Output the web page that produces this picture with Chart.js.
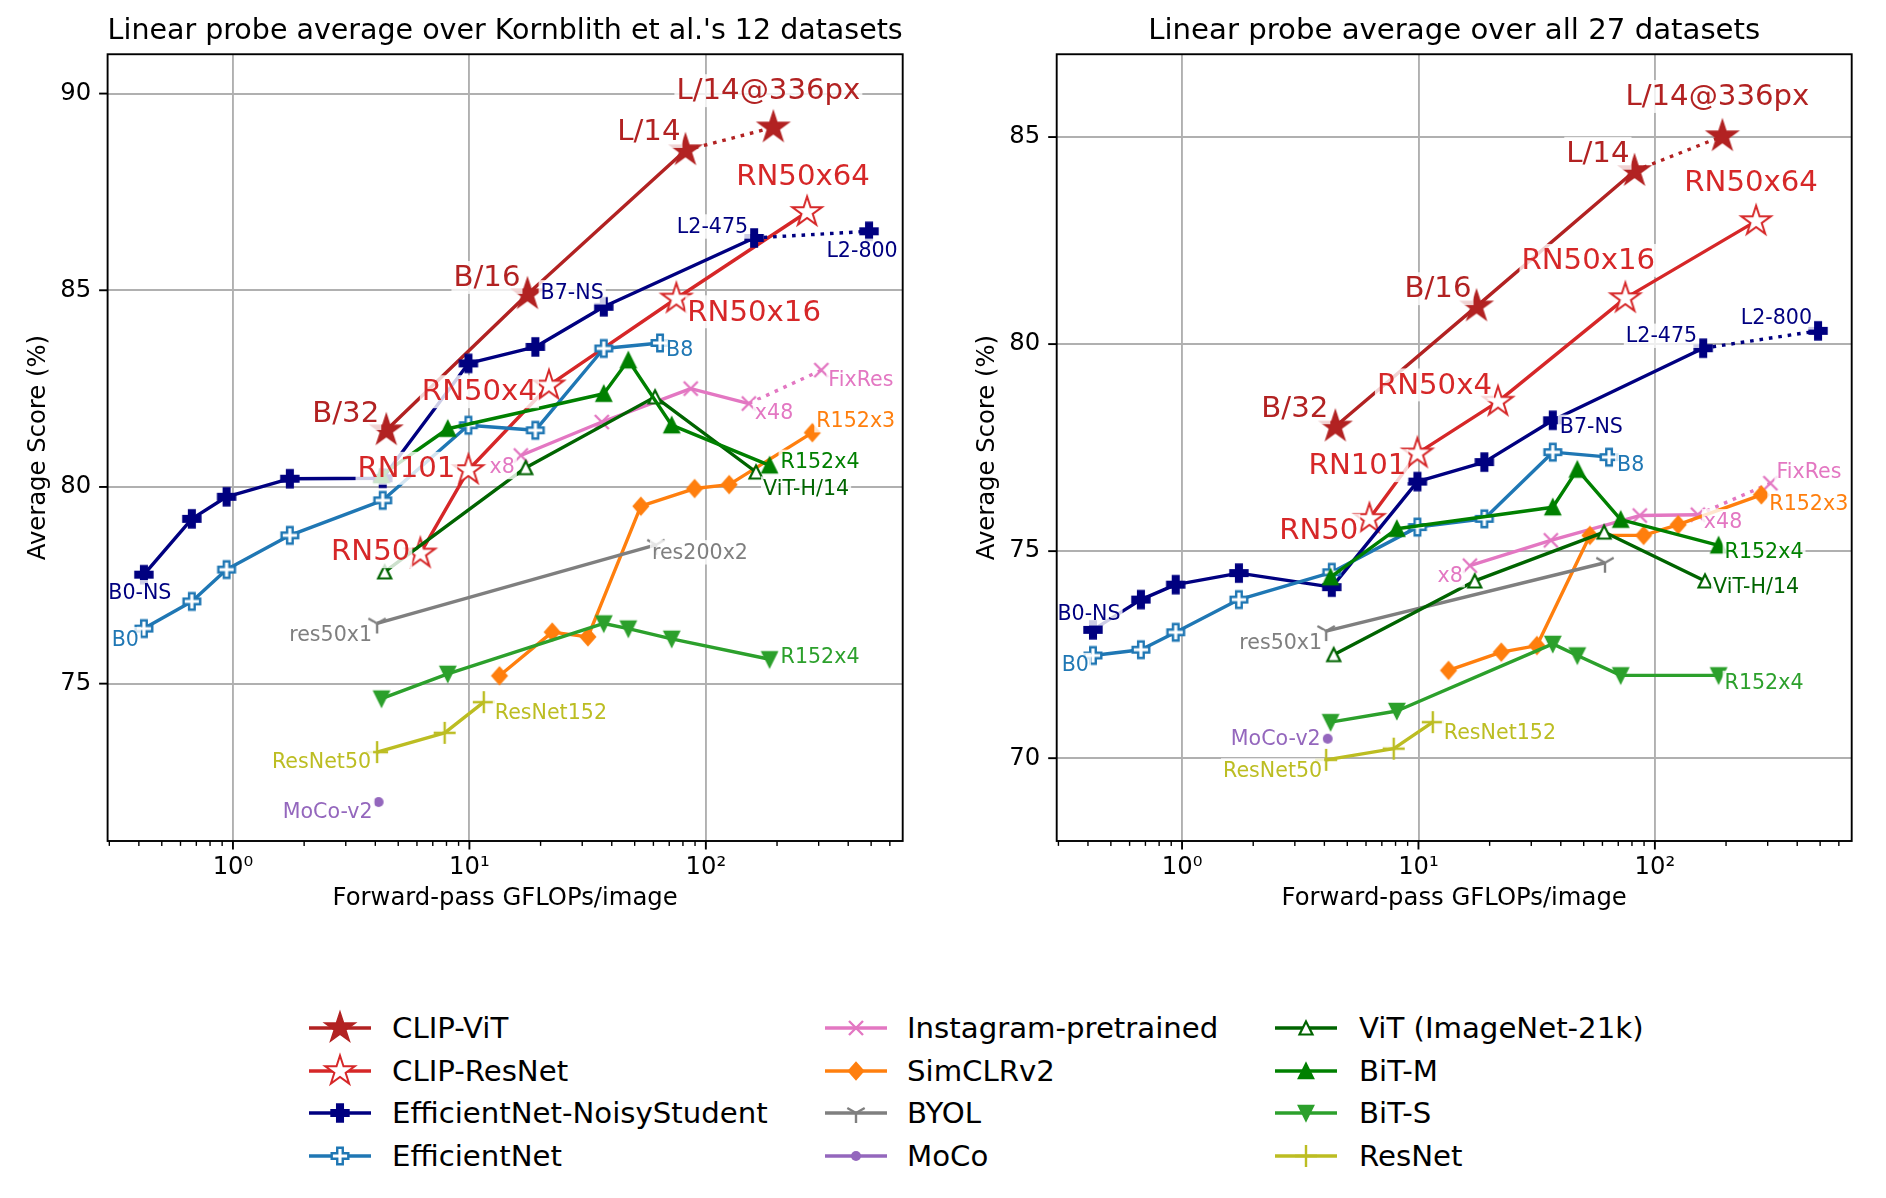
<!DOCTYPE html>
<html>
<head>
<meta charset="utf-8">
<script src="https://cdn.jsdelivr.net/npm/chart.js@4.4.1/dist/chart.umd.min.js"></script>
<style>
  body { margin: 0; background: #fff; font-family: 'DejaVu Sans', sans-serif; }
  #wrap { position: relative; width: 1886px; height: 1198px; overflow: hidden; }
  canvas.panel { position: absolute; top: 0; }
  .legtext { position: absolute; font-size: 29.2px; line-height: 29.2px; white-space: nowrap; color: #000; }
  .legsw { position: absolute; }
</style>
</head>
<body>
<div id="wrap">
  <canvas id="left" class="panel" width="943" height="921" style="left:0"></canvas>
  <canvas id="right" class="panel" width="943" height="921" style="left:943px"></canvas>
  <div id="legend"></div>
</div>
<script>
// GFLOPs per image (x) for each model family
const clipVitX  = [4.45, 17.6, 82, 193];
const clipRnX   = [6.2, 9.9, 21.7, 75, 268];
const nsX       = [0.42, 0.67, 0.94, 1.74, 4.3, 9.9, 19, 37, 160, 490];
const effX      = [0.42, 0.67, 0.94, 1.74, 4.3, 9.9, 19, 37, 64];
const igX       = [16.5, 36.3, 86.3, 152, 308];
const simX      = [13.4, 22.4, 31.7, 53.1, 89.6, 125.5, 282];
const byolX     = [4.07, 61.5];
const mocoX     = [4.13];
const vitX      = [4.38, 17.3, 61, 163];
const bitX      = [4.25, 8.1, 37, 47, 71.7, 186];
const resX      = [4.07, 7.86, 11.5];

// average score, Kornblith et al.'s 12 datasets
const clipVitK = [81.44, 84.9, 88.56, 89.14];
const clipRnK  = [78.31, 80.43, 82.58, 84.79, 86.99];
const nsK      = [77.77, 79.19, 79.75, 80.21, 80.22, 83.14, 83.56, 84.58, 86.33, 86.5];
const effK     = [76.4, 77.09, 77.9, 78.77, 79.66, 81.57, 81.44, 83.52, 83.66];
const igK      = [80.8, 81.65, 82.5, 82.12, 82.97];
const simK     = [75.2, 76.31, 76.19, 79.51, 79.96, 80.06, 81.38];
const byolK    = [76.53, 78.53];
const mocoK    = [71.99];
const vitK     = [77.84, 80.49, 82.29, 80.38];
const bitmK    = [80.3, 81.48, 82.37, 83.22, 81.57, 80.55];
const bitsK    = [74.62, 75.25, 76.53, 76.4, 76.14, 75.62];
const resK     = [73.26, 73.75, 74.53];

// average score, all 27 datasets
const clipVitA = [78.01, 80.91, 84.18, 85.02];
const clipRnA  = [75.78, 77.36, 78.61, 81.11, 82.97];
const nsA      = [73.1, 73.83, 74.19, 74.47, 74.13, 76.68, 77.15, 78.16, 79.9, 80.32];
const effA     = [72.48, 72.62, 73.04, 73.83, 74.49, 75.58, 75.78, 77.39, 77.27];
const igA      = [74.65, 75.26, 75.86, 75.88, 76.64];
const simA     = [72.12, 72.56, 72.72, 75.38, 75.38, 75.64, 76.36];
const byolA    = [73.07, 74.72];
const mocoA    = [70.47];
const vitA     = [72.5, 74.28, 75.46, 74.28];
const bitmA    = [74.37, 75.54, 76.06, 76.97, 75.76, 75.14];
const bitsA    = [70.87, 71.14, 72.76, 72.48, 72.0, 72.0];
const resA     = [69.96, 70.23, 70.87];

// point names
const clipVitNames = ['B/32', 'B/16', 'L/14', 'L/14@336px'];
const clipRnNames  = ['RN50', 'RN101', 'RN50x4', 'RN50x16', 'RN50x64'];
const nsNames      = ['B0-NS', null, null, null, null, null, null, 'B7-NS', 'L2-475', 'L2-800'];
const effNames     = ['B0', null, null, null, null, null, null, null, 'B8'];
const igNames      = ['x8', null, null, 'x48', 'FixRes'];
const simNames     = [null, null, null, null, null, null, 'R152x3'];
const byolNames    = ['res50x1', 'res200x2'];
const mocoNames    = ['MoCo-v2'];
const vitNames     = [null, null, null, 'ViT-H/14'];
const bitNames     = [null, null, null, null, null, 'R152x4'];
const resNames     = ['ResNet50', null, 'ResNet152'];

// axis ticks
const yTicksK = [75, 80, 85, 90];
const yTicksA = [70, 75, 80, 85];
const xMajors = [1, 10, 100];
const xMinors = [0.3, 0.4, 0.5, 0.6, 0.7, 0.8, 0.9, 2, 3, 4, 5, 6, 7, 8, 9,
                 20, 30, 40, 50, 60, 70, 80, 90, 200, 300, 400, 500, 600];
const xTickText = { 1: '10\u2070', 10: '10\u00b9', 100: '10\u00b2' };

const series = [
  { key: 'clipVit', label: 'CLIP-ViT', color: '#b22222', marker: 'starFilled', x: clipVitX, k: clipVitK, a: clipVitA, names: clipVitNames, dotted: true, big: true },
  { key: 'clipRn', label: 'CLIP-ResNet', color: '#d62728', marker: 'starHollow', x: clipRnX, k: clipRnK, a: clipRnA, names: clipRnNames, big: true },
  { key: 'ns', label: 'EfficientNet-NoisyStudent', color: '#000080', marker: 'plusFilled', x: nsX, k: nsK, a: nsA, names: nsNames, dotted: true },
  { key: 'eff', label: 'EfficientNet', color: '#1f77b4', marker: 'plusHollow', x: effX, k: effK, a: effA, names: effNames },
  { key: 'ig', label: 'Instagram-pretrained', color: '#e377c2', marker: 'x', x: igX, k: igK, a: igA, names: igNames, dotted: true },
  { key: 'sim', label: 'SimCLRv2', color: '#ff7f0e', marker: 'diamond', x: simX, k: simK, a: simA, names: simNames },
  { key: 'byol', label: 'BYOL', color: '#7f7f7f', marker: 'triDown', x: byolX, k: byolK, a: byolA, names: byolNames },
  { key: 'moco', label: 'MoCo', color: '#9467bd', marker: 'circle', x: mocoX, k: mocoK, a: mocoA, names: mocoNames },
  { key: 'vit', label: 'ViT (ImageNet-21k)', color: '#006400', marker: 'triUpHollow', x: vitX, k: vitK, a: vitA, names: vitNames },
  { key: 'bitm', label: 'BiT-M', color: '#008000', marker: 'triUp', x: bitX, k: bitmK, a: bitmA, names: bitNames },
  { key: 'bits', label: 'BiT-S', color: '#2ca02c', marker: 'triDown2', x: bitX, k: bitsK, a: bitsA, names: bitNames },
  { key: 'res', label: 'ResNet', color: '#bcbd22', marker: 'plusThin', x: resX, k: resK, a: resA, names: resNames }
];

// label placement per panel: [align, dx, baseline dy]
const placeK = {
  clipVit: [['right', -7, -8], ['right', -7, -8], ['right', -5, -10], ['center', -5, -28]],
  clipRn: [['right', -10, 7], ['right', -13, 7], ['right', -12, 15], ['left', 11, 22], ['center', -4, -27]],
  ns: [['center', -4, 24], 0, 0, 0, 0, 0, 0, ['right', 0, -8], ['right', -6, -5], ['center', -7, 26]],
  eff: [['right', -5, 17], 0, 0, 0, 0, 0, 0, 0, ['left', 6, 13]],
  ig: [['right', -6, 18], 0, 0, ['left', 6, 15], ['left', 7, 16]],
  sim: [0, 0, 0, 0, 0, 0, ['left', 4, -6]],
  byol: [['right', -5, 18], ['left', -4, 14]],
  moco: [['right', -6, 16]],
  vit: [0, 0, 0, ['left', 7, 23]],
  bitm: [0, 0, 0, 0, 0, ['left', 11, 3]],
  bits: [0, 0, 0, 0, 0, ['left', 11, 4]],
  res: [['right', -6, 16], 0, ['left', 11, 17]]
};
const placeA = {
  clipVit: [['right', -7, -10], ['right', -5, -9], ['right', -5, -9], ['center', -5, -31]],
  clipRn: [['right', -11, 20], ['right', -11, 21], ['right', -6, -8], ['center', -37, -29], ['center', -5, -30]],
  ns: [['center', -4, -10], 0, 0, 0, 0, 0, 0, ['left', 7, 13], ['right', -6, -6], ['right', -6, -7]],
  eff: [['right', -4, 16], 0, 0, 0, 0, 0, 0, 0, ['left', 8, 14]],
  ig: [['right', -7, 16], 0, 0, ['left', 6, 13], ['left', 6, -5]],
  sim: [0, 0, 0, 0, 0, 0, ['left', 8, 15]],
  byol: [['right', -4, 18], 0],
  moco: [['right', -7, 6]],
  vit: [0, 0, 0, ['left', 8, 12]],
  bitm: [0, 0, 0, 0, 0, ['left', 6, 13]],
  bits: [0, 0, 0, 0, 0, ['left', 6, 14]],
  res: [['right', -4, 17], 0, ['left', 11, 17]]
};

const FONT = "'DejaVu Sans', sans-serif";
Chart.defaults.font.family = FONT;
Chart.defaults.color = '#000';

// marker sprites
function makeMarker(kind, color) {
  const c = document.createElement('canvas');
  c.width = c.height = 40;
  const g = c.getContext('2d');
  g.translate(20, 20);
  g.strokeStyle = color;
  g.fillStyle = color;
  g.lineWidth = 2.4;
  g.lineJoin = 'miter';
  const poly = pts => { g.beginPath(); pts.forEach((p, i) => i ? g.lineTo(p[0], p[1]) : g.moveTo(p[0], p[1])); g.closePath(); };
  const star = R => {
    const pts = [];
    for (let i = 0; i < 10; i++) {
      const a = -Math.PI / 2 + i * Math.PI / 5;
      const r = i % 2 ? R * 0.382 : R;
      pts.push([r * Math.cos(a), r * Math.sin(a)]);
    }
    poly(pts);
  };
  const plus = s => {
    const w = s / 3;
    poly([[-w, -s], [w, -s], [w, -w], [s, -w], [s, w], [w, w], [w, s], [-w, s], [-w, w], [-s, w], [-s, -w], [-w, -w]]);
  };
  switch (kind) {
    case 'starFilled': g.lineWidth = 1.5; star(16); g.fill(); g.stroke(); break;
    case 'starHollow': g.lineWidth = 2; star(15.5); g.fillStyle = '#fff'; g.fill(); g.stroke(); break;
    case 'plusFilled': plus(8.5); g.fill(); g.stroke(); break;
    case 'plusHollow': plus(8.3); g.fillStyle = '#fff'; g.fill(); g.stroke(); break;
    case 'x':
      g.beginPath(); g.moveTo(-7, -7); g.lineTo(7, 7); g.moveTo(7, -7); g.lineTo(-7, 7); g.stroke(); break;
    case 'diamond': poly([[0, -8], [7, 0], [0, 8], [-7, 0]]); g.fill(); g.stroke(); break;
    case 'triDown':
      g.beginPath(); g.moveTo(0, 0); g.lineTo(0, 10); g.moveTo(0, 0); g.lineTo(-8.7, -5); g.moveTo(0, 0); g.lineTo(8.7, -5); g.stroke(); break;
    case 'circle': g.beginPath(); g.arc(0, 0, 5, 0, Math.PI * 2); g.fill(); break;
    case 'triUpHollow': g.lineWidth = 2.2; poly([[0, -6.5], [6.5, 6.5], [-6.5, 6.5]]); g.fillStyle = '#fff'; g.fill(); g.stroke(); break;
    case 'triUp': poly([[0, -7], [7, 7], [-7, 7]]); g.fill(); g.stroke(); break;
    case 'triDown2': poly([[0, 7], [7, -7], [-7, -7]]); g.fill(); g.stroke(); break;
    case 'plusThin':
      g.beginPath(); g.moveTo(-11, 0); g.lineTo(11, 0); g.moveTo(0, -11); g.lineTo(0, 11); g.stroke(); break;
  }
  return c;
}
const sprites = {};
series.forEach(s => { sprites[s.key] = makeMarker(s.marker, s.color); });

// text labels next to the points, with a pale box behind them
const pointLabels = {
  id: 'pointLabels',
  afterDatasetsDraw(chart) {
    const ctx = chart.ctx;
    ctx.save();
    chart.data.datasets.forEach((ds, di) => {
      const meta = chart.getDatasetMeta(di);
      ds.names.forEach((name, i) => {
        const p = ds.place[i];
        if (!name || !p) return;
        const pt = meta.data[i];
        const size = ds.labelSize;
        ctx.font = size + 'px ' + FONT;
        const w = ctx.measureText(name).width;
        const x = pt.x + p[1];
        const base = pt.y + p[2];
        const left = p[0] === 'right' ? x - w : p[0] === 'center' ? x - w / 2 : x;
        ctx.fillStyle = 'rgba(255,255,255,0.8)';
        ctx.fillRect(left - 2, base - size * 0.76 - 3, w + 4, size * 0.99 + 4);
        ctx.fillStyle = ds.borderColor;
        ctx.textAlign = 'left';
        ctx.textBaseline = 'alphabetic';
        ctx.fillText(name, left, base);
      });
    });
    ctx.restore();
  }
};

// axes frame and tick marks
const frame = {
  id: 'frame',
  afterDraw(chart) {
    const { ctx, chartArea: a, scales: { x, y } } = chart;
    ctx.save();
    ctx.strokeStyle = '#000';
    x.ticks.forEach(t => {
      const px = x.getPixelForValue(t.value);
      const major = xMajors.includes(t.value);
      ctx.lineWidth = major ? 1.9 : 1.4;
      ctx.beginPath(); ctx.moveTo(px, a.bottom); ctx.lineTo(px, a.bottom + (major ? 8.5 : 4.9)); ctx.stroke();
    });
    ctx.lineWidth = 1.9;
    y.ticks.forEach(t => {
      const py = y.getPixelForValue(t.value);
      ctx.beginPath(); ctx.moveTo(a.left, py); ctx.lineTo(a.left - 8.5, py); ctx.stroke();
    });
    ctx.strokeRect(a.left, a.top, a.right - a.left, a.bottom - a.top);
    ctx.restore();
  }
};

function buildDatasets(panel) {
  const place = panel === 'k' ? placeK : placeA;
  return series.map((s, i) => ({
    label: s.label,
    data: s.x.map((x, j) => ({ x: x, y: s[panel][j] })),
    borderColor: s.color,
    backgroundColor: s.color,
    borderWidth: 3.4,
    borderJoinStyle: 'round',
    pointStyle: sprites[s.key],
    pointRadius: 6,
    pointHoverRadius: 6,
    showLine: s.x.length > 1,
    fill: false,
    tension: 0,
    order: -i,
    segment: s.dotted ? { borderDash: c => c.p1DataIndex === s.x.length - 1 ? [3.6, 5.9] : undefined } : {},
    names: s.names,
    place: place[s.key],
    labelSize: s.big ? 29.2 : 20.6
  }));
}

function makePanel(id, panel, title, yMin, yMax, yTicks, padRight, yAxisW, yTitlePad) {
  return new Chart(document.getElementById(id), {
    type: 'line',
    data: { datasets: buildDatasets(panel) },
    options: {
      responsive: false,
      animation: false,
      events: [],
      layout: { padding: { left: 0, right: padRight, top: 0, bottom: 0 } },
      plugins: {
        legend: { display: false },
        tooltip: { enabled: false },
        title: {
          display: true, text: title, fullSize: false, color: '#000',
          font: { size: 29.2, weight: 'normal' }, padding: { top: 13.6, bottom: 5.6 }
        }
      },
      scales: {
        x: {
          type: 'logarithmic', min: 0.295, max: 680,
          afterBuildTicks: s => { s.ticks = xMajors.concat(xMinors).sort((a, b) => a - b).map(v => ({ value: v, major: xMajors.includes(v) })); },
          afterFit: s => { s.height = 80; },
          border: { display: false },
          grid: {
            color: c => (c.tick && xMajors.includes(c.tick.value)) ? '#b0b0b0' : 'rgba(0,0,0,0)',
            lineWidth: 1.9, drawTicks: true, tickLength: 8.5, tickColor: 'rgba(0,0,0,0)'
          },
          ticks: {
            autoSkip: false, maxRotation: 0, minRotation: 0, padding: 4, color: '#000',
            font: { size: 24.3 },
            callback: v => xTickText[v] || ''
          },
          title: { display: true, text: 'Forward-pass GFLOPs/image', color: '#000', font: { size: 24.3 }, padding: { top: 0, bottom: 7.4 } }
        },
        y: {
          type: 'linear', min: yMin, max: yMax,
          afterBuildTicks: s => { s.ticks = yTicks.map(v => ({ value: v })); },
          afterFit: s => { s.width = yAxisW; },
          border: { display: false },
          grid: { color: '#b0b0b0', lineWidth: 1.9, drawTicks: true, tickLength: 8.5, tickColor: 'rgba(0,0,0,0)' },
          ticks: { padding: 8, color: '#000', font: { size: 24.3 } },
          title: { display: true, text: 'Average Score (%)', color: '#000', font: { size: 24.3 }, padding: { top: yTitlePad, bottom: 0 } }
        }
      }
    },
    plugins: [pointLabels, frame]
  });
}

makePanel('left', 'k', "Linear probe average over Kornblith et al.'s 12 datasets", 71, 91, yTicksK, 40.3, 107.6, 24.4);
makePanel('right', 'a', 'Linear probe average over all 27 datasets', 68, 87, yTicksA, 34.3, 113.7, 30.4);

// shared legend below both panels, three columns
const legendCols = [
  { line: 309, text: 392 },
  { line: 825, text: 907 },
  { line: 1275, text: 1359 }
];
const legendRows = [1028, 1071, 1113, 1156];
const legend = document.getElementById('legend');
series.forEach((s, i) => {
  const col = legendCols[Math.floor(i / 4)];
  const cy = legendRows[i % 4];
  const sw = document.createElement('canvas');
  sw.width = 64; sw.height = 40;
  sw.className = 'legsw';
  sw.style.left = col.line + 'px';
  sw.style.top = (cy - 20) + 'px';
  const g = sw.getContext('2d');
  g.strokeStyle = s.color;
  g.lineWidth = 3.6;
  g.beginPath(); g.moveTo(0, 20); g.lineTo(62, 20); g.stroke();
  g.drawImage(sprites[s.key], 31 - 20, 0);
  legend.appendChild(sw);
  const t = document.createElement('div');
  t.className = 'legtext';
  t.textContent = s.label;
  t.style.left = col.text + 'px';
  t.style.top = (cy - 14) + 'px';
  legend.appendChild(t);
});
</script>
</body>
</html>
